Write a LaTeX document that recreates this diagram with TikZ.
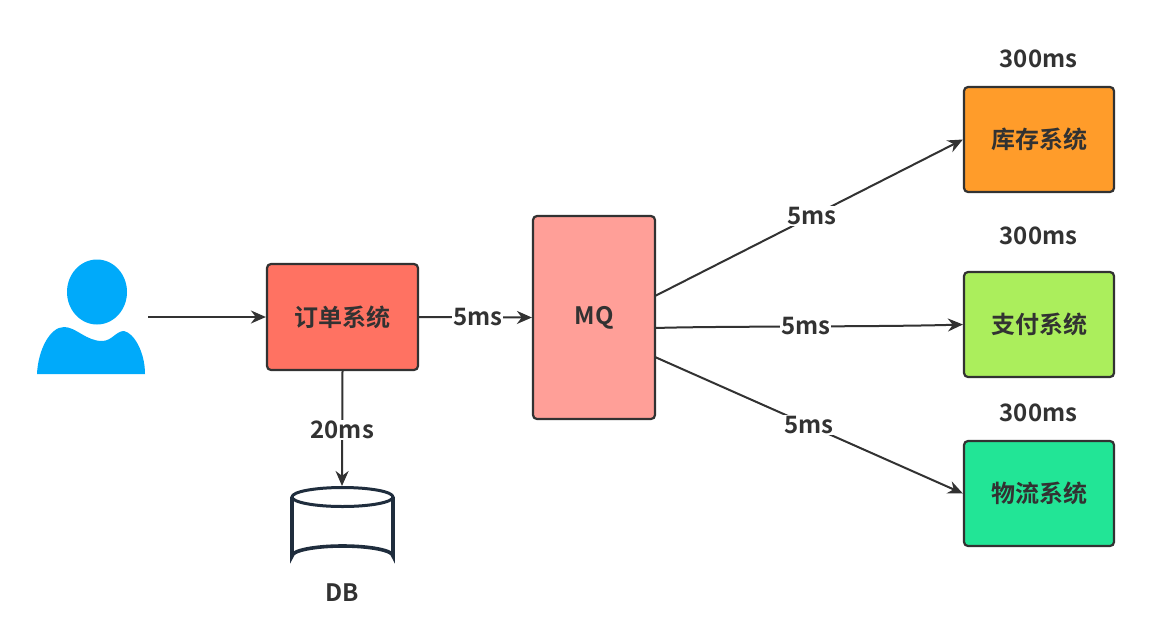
\documentclass[tikz,border=0pt]{standalone}
\usepackage{fontspec}
\setmainfont{Noto Sans CJK SC}[BoldFont={Noto Sans CJK SC Bold}]
\usetikzlibrary{arrows.meta}
\definecolor{ink}{HTML}{323232}
\definecolor{dbline}{HTML}{1F2D3D}
\definecolor{userblue}{HTML}{00AAFA}
\definecolor{ordercol}{HTML}{FF7262}
\definecolor{mqcol}{HTML}{FF9F98}
\definecolor{stockcol}{HTML}{FF9C2A}
\definecolor{paycol}{HTML}{ABEE5C}
\definecolor{shipcol}{HTML}{22E596}
\tikzset{
  x=1pt,y=-1pt,
  sysbox/.style={draw=ink,line width=2.2pt,rounded corners=4pt,text=ink,font=\fontsize{24}{28}\selectfont\bfseries,inner sep=0pt},
  conn/.style={draw=ink,line width=2pt,-{Stealth[length=15pt,width=13pt]}},
  tag/.style={fill=white,text=ink,font=\fontsize{24}{28}\selectfont\bfseries,inner sep=1pt},
  plain/.style={text=ink,font=\fontsize{24}{28}\selectfont\bfseries,inner sep=0pt},
}
\begin{document}
\begin{tikzpicture}
\useasboundingbox (0,0) rectangle (1159,619);
\fill[white] (0,0) rectangle (1159,619);
% user icon
\fill[userblue] (97,292) ellipse [x radius=30,y radius=32.5];
\fill[userblue] (37,374) .. controls (38,350) and (50,327) .. (64,327)
  .. controls (76,327) and (86,341) .. (102,341)
  .. controls (112,341) and (116,331) .. (124,331)
  .. controls (134,333) and (145,352) .. (145,374) -- cycle;
\coordinate (userout) at (148,317);
% boxes
\node[sysbox,fill=ordercol,minimum width=151pt,minimum height=106pt] (order) at (342.5,317) {订单系统};
\node[sysbox,fill=mqcol,minimum width=122pt,minimum height=203pt] (mq) at (594,317.5) {MQ};
\node[sysbox,fill=stockcol,minimum width=150pt,minimum height=105pt] (stock) at (1039,139.5) {库存系统};
\node[sysbox,fill=paycol,minimum width=150pt,minimum height=105pt] (pay) at (1039,324.5) {支付系统};
\node[sysbox,fill=shipcol,minimum width=150pt,minimum height=105pt] (ship) at (1039,493.5) {物流系统};
% database
\coordinate (dbc) at (342.5,527);
\draw[dbline,line width=3.6pt,fill=white] (292,497) -- (292,556) arc[start angle=180,end angle=360,x radius=50.5,y radius=10] -- (393,497);
\draw[dbline,line width=3pt,fill=white] (342.5,497) ellipse [x radius=50.5,y radius=9.5];
\node[plain] (dblabel) at (342.5,593) {DB};
\coordinate (dbtop) at (342,486);
% top labels
\node[plain] (t1) at (1038.5,59) {300ms};
\node[plain] (t2) at (1038.5,236) {300ms};
\node[plain] (t3) at (1038.5,413) {300ms};
% connectors
\draw[conn] (userout) -- (order.west);
\draw[conn] (order.east) -- (mq.west) node[tag,pos=0.52] {5ms};
\draw[conn] (order.south) -- (dbtop) node[tag,pos=0.51] {20ms};
\coordinate (mqa) at (655,296);
\coordinate (mqb) at (655,328);
\coordinate (mqc) at (655,357);
\draw[conn] (mqa) -- (stock.west) node[tag,pos=0.51] {5ms};
\draw[conn] (mqb) .. controls (720,326) and (880,327) .. (pay.west) node[tag,pos=0.51] {5ms};
\draw[conn] (mqc) -- (ship.west) node[tag,pos=0.5] {5ms};
\end{tikzpicture}
\end{document}
